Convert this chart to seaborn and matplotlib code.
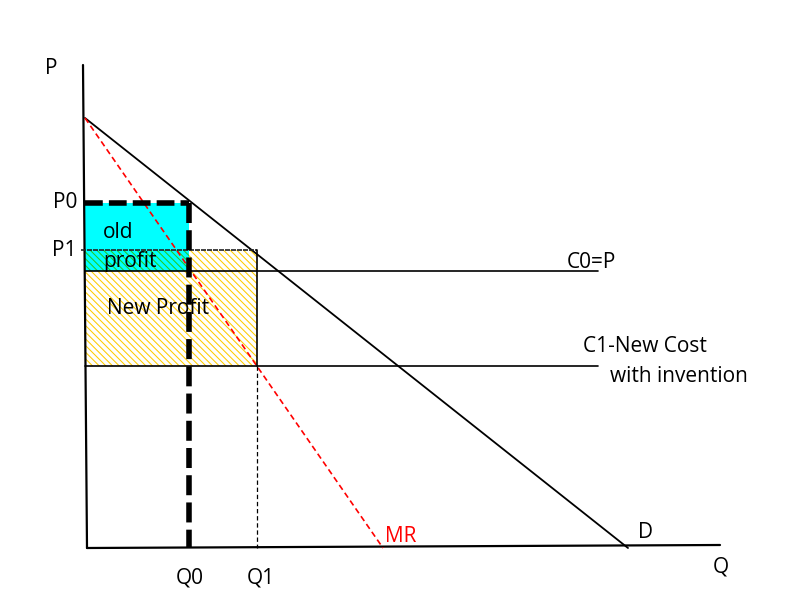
import matplotlib.pyplot as plt
import matplotlib as mpl
from matplotlib.patches import Rectangle
import seaborn as sns

# economic units: quantity Q to the right, price P upward
demand_q = [0, 543]
demand_p = [430, 0]
mr_q = [0, 298]
mr_p = [430, 0]
q0, p0 = 104, 345
q1, p1 = 172, 298
c0, c1 = 277, 182
cost_end = 513
axis_x_q = [2, 635]
axis_x_p = [0, 3]
axis_y_q = [2, -2]
axis_y_p = [0, 483]

sns.set_theme(style="white")
plt.rcParams["font.family"] = ["Open Sans", "DejaVu Sans"]
mpl.rcParams["text.color"] = "black"
mpl.rcParams["hatch.linewidth"] = 0.75

fig = plt.figure(figsize=(8, 6), dpi=100)
ax = fig.add_axes([0, 0, 1, 1])
ax.set_xlim(-85, 715)
ax.set_ylim(-52, 548)
ax.axis("off")

# new profit block (yellow hatch)
ax.add_patch(Rectangle((0, c1), q1, p1 - c1, facecolor="none", edgecolor="#ffcc00",
                       hatch="\\" * 5, linewidth=0, zorder=1))
# old profit block (cyan), overlap with new profit shows green hatch
ax.add_patch(Rectangle((0, c0), q0, p0 - c0, facecolor="#00ffff", edgecolor="none", zorder=2))
ax.add_patch(Rectangle((0, c0), q0, p1 - c0, facecolor="none", edgecolor="#22cc22",
                       hatch="\\" * 5, linewidth=0, zorder=2))

# axes
sns.lineplot(x=axis_y_q, y=axis_y_p, color="black", lw=1.6, ax=ax, sort=False)
sns.lineplot(x=axis_x_q, y=axis_x_p, color="black", lw=1.6, ax=ax, sort=False)

# demand and marginal revenue
sns.lineplot(x=demand_q, y=demand_p, color="black", lw=1.3, ax=ax, sort=False)
ax.plot(mr_q, mr_p, color="red", lw=1.2, dashes=(3.5, 2.2), zorder=3)

# cost lines
ax.plot([0, cost_end], [c0, c0], color="black", lw=1.2, zorder=3)
ax.plot([0, cost_end], [c1, c1], color="black", lw=1.2, zorder=3)

# old equilibrium (thick dashed)
ax.plot([0, q0], [p0, p0], color="black", lw=4, dashes=(3.2, 1.1), zorder=4)
ax.plot([q0, q0], [p0, 0], color="black", lw=4, dashes=(3.6, 1.3), zorder=4)

# new equilibrium
ax.plot([-4, q1], [p1, p1], color="#222222", lw=1.2, dashes=(3, 0.6), zorder=3)
ax.plot([q1, q1], [p1, c1], color="black", lw=1.2, zorder=3)
ax.plot([q1, q1], [c1, 0], color="black", lw=0.9, dashes=(3.5, 2.2), zorder=3)

fs = 15
ax.text(-34, 480, "P", fontsize=fs, ha="center", va="center")
ax.text(636, -19, "Q", fontsize=fs, ha="center", va="center")
ax.text(-8, p0, "P0", fontsize=fs, ha="right", va="center")
ax.text(-8, p1, "P1", fontsize=fs, ha="right", va="center")
ax.text(q0 + 1, -30, "Q0", fontsize=fs, ha="center", va="center")
ax.text(q1 + 4, -30, "Q1", fontsize=fs, ha="center", va="center")
ax.text(mr_q[1] + 2, 11, "MR", fontsize=fs, color="red", va="center")
ax.text(553, 16, "D", fontsize=fs, va="center")
ax.text(482, 286, "C0=P", fontsize=fs, va="center")
ax.text(498, 202, "C1-New Cost", fontsize=fs, va="center")
ax.text(525, 171, "with invention", fontsize=fs, va="center")
ax.text(18, 316, "old", fontsize=fs, va="center")
ax.text(18, 286, "profit", fontsize=fs, va="center")
ax.text(22, 240, "New Profit", fontsize=fs, va="center")

fig.savefig("out.png", dpi=100)
